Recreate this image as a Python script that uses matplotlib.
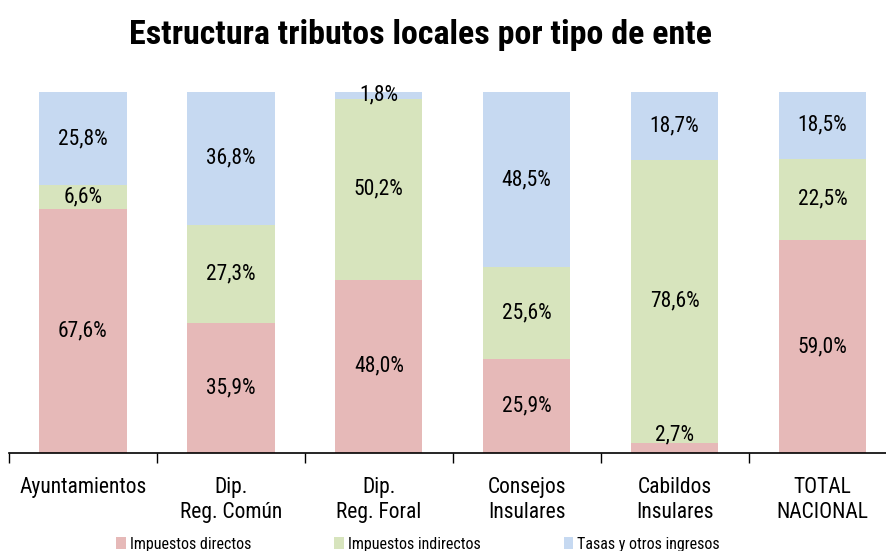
import matplotlib
matplotlib.use('Agg')
import matplotlib.pyplot as plt
import numpy as np

plt.rcParams['font.family'] = ['Roboto Condensed', 'DejaVu Sans']

# data
categories = ['Ayuntamientos', 'Dip.\nReg. Común', 'Dip.\nReg. Foral', 'Consejos\nInsulares',
              'Cabildos\nInsulares', 'TOTAL\nNACIONAL']
directos = [67.6, 35.9, 48.0, 25.9, 2.7, 59.0]
indirectos = [6.6, 27.3, 50.2, 25.6, 78.6, 22.5]
tasas = [25.8, 36.8, 1.8, 48.5, 18.7, 18.5]
series_names = ['Impuestos directos', 'Impuestos indirectos', 'Tasas y otros ingresos']
colors = ['#E6B9B8', '#D7E4BD', '#C6D9F1']

fig = plt.figure(figsize=(8.86, 5.51), dpi=100)
ax = fig.add_axes([0.0102, 0.178, 0.99, 0.655])

x = np.arange(len(categories))
bottom = np.zeros(len(categories))
for vals, name, col in zip([directos, indirectos, tasas], series_names, colors):
    vals = np.array(vals)
    ax.bar(x, vals, width=0.59, bottom=bottom, color=col, label=name)
    for xi, b, v in zip(x, bottom, vals):
        y = max(b + v / 2, 5.0)
        ax.text(xi, y, f'{v:.1f}%'.replace('.', ','), ha='center', va='center',
                fontsize=15.5, color='black')
    bottom += vals

ax.set_xlim(-0.5, 5.43)
ax.set_ylim(0, 100)
for s in ['top', 'right', 'left']:
    ax.spines[s].set_visible(False)
ax.spines['bottom'].set_linewidth(1.2)
ax.set_yticks([])
ax.set_xticks(np.arange(-0.5, 5.5, 1.0))
ax.set_xticklabels([])
ax.set_xticks(x, minor=True)
ax.set_xticklabels(categories, minor=True, fontsize=15.5, linespacing=1.25)
ax.tick_params(axis='x', which='minor', length=0, pad=17)
ax.tick_params(axis='x', which='major', length=7, width=1, direction='out')

fig.text(0.475, 0.937, 'Estructura tributos locales por tipo de ente', ha='center', va='center',
         fontsize=24.5, fontweight='bold')

fig.legend(loc='lower center', bbox_to_anchor=(0.472, -0.027), ncol=3, frameon=False,
           fontsize=11.5, handlelength=0.6, handleheight=0.8, handletextpad=0.25,
           columnspacing=5.2)

fig.savefig('out.png', dpi=100)
